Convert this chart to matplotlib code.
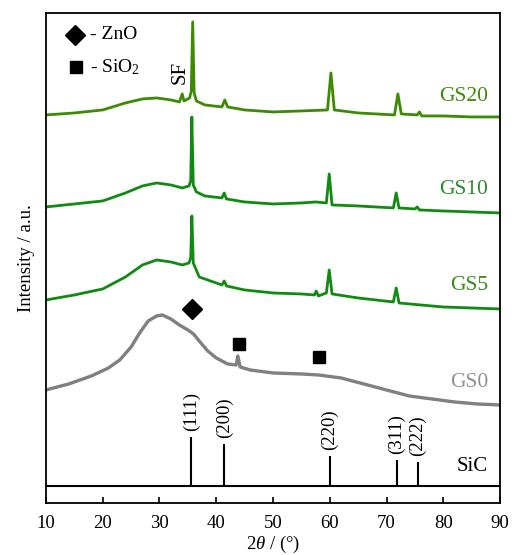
import matplotlib
matplotlib.use('Agg')
import matplotlib.pyplot as plt

plt.rcParams['font.family'] = ['Liberation Serif', 'DejaVu Serif']
plt.rcParams['mathtext.fontset'] = 'custom'
plt.rcParams['mathtext.rm'] = 'Liberation Serif'
plt.rcParams['mathtext.it'] = 'Liberation Serif:italic'

# XRD patterns (2theta in degrees, intensity in arbitrary offset units)
gs20_x = [10, 15, 20, 24, 27, 29.5, 32, 33.5, 34.0, 34.3, 35.3, 35.6, 35.85, 36.1, 36.5, 38,
          41.0, 41.5, 42.0, 45, 50, 55, 59.6, 60.2, 60.8, 65, 71.4, 72.0, 72.6, 75.4, 75.8,
          76.2, 80, 85, 90]
gs20_y = [388, 390, 393, 400, 404, 405, 403, 401, 409, 402, 405, 412, 481, 410, 402, 398,
          396, 403, 396, 393, 391, 392, 393, 430, 393, 390, 388, 409, 389, 388, 391,
          387, 387, 386, 386]

gs10_x = [10, 15, 20, 24, 27, 29.5, 32, 34, 35.2, 35.5, 35.7, 35.95, 36.5, 38, 41.0, 41.4,
          41.8, 45, 50, 55, 57.5, 59.4, 59.9, 60.4, 65, 71.2, 71.7, 72.2, 75.0, 75.4, 75.8,
          80, 85, 90]
gs10_y = [296, 299, 302, 310, 317, 320, 318, 315, 317, 322, 386, 318, 311, 307, 305, 310,
          304, 301, 299, 300, 301, 300, 329, 298, 297, 295, 310, 295, 294, 296, 293,
          292, 291, 290]

gs5_x = [10, 15, 20, 24, 27, 29.5, 32, 34, 35.2, 35.5, 35.7, 35.95, 37, 40, 41.0, 41.4, 41.8,
         45, 50, 55, 57.3, 57.6, 58, 59.4, 59.9, 60.4, 65, 71.2, 71.7, 72.2, 76, 80, 85, 90]
gs5_y = [203, 208, 214, 226, 238, 243, 241, 238, 240, 245, 287, 240, 226, 220, 218, 222, 217,
         213, 210, 209, 208, 212, 207, 210, 233, 209, 205, 201, 215, 200, 198, 196, 195, 194]

gs0_x = [10, 14, 18, 21, 23, 25, 26.5, 28, 29.5, 30.5, 32, 33.5, 35, 36, 37, 38.5, 40, 42,
         43.5, 43.8, 44.2, 46, 50, 55, 58, 62, 66, 70, 74, 78, 82, 86, 90]
gs0_y = [113, 119, 127, 135, 143, 156, 170, 182, 187, 188, 184, 178, 173, 169, 162, 152, 145,
         139, 138, 147, 136, 133, 130, 129, 128, 125, 119, 113, 107, 104, 101, 99, 98]

# SiC reference lines
sic_pos = [35.6, 41.4, 60.0, 71.8, 75.5]
sic_top = [66, 59, 47, 43, 41]
sic_hkl = ['(111)', '(200)', '(220)', '(311)', '(222)']
sic_base = 17

# phase markers
zno_x, zno_y = [35.7], [194]
sio2_x, sio2_y = [44.0, 58.1], [159, 146]

fig = plt.figure(figsize=(5.16, 5.55), dpi=100)
ax = fig.add_axes([0.0891, 0.0937, 0.880, 0.883])

ax.plot(gs0_x, gs0_y, color='#808080', lw=2.4)
ax.plot(gs5_x, gs5_y, color='#108a10', lw=2.0)
ax.plot(gs10_x, gs10_y, color='#108a10', lw=2.0)
ax.plot(gs20_x, gs20_y, color='#3d8a05', lw=2.0)

# SiC stick pattern
ax.axhline(sic_base, color='black', lw=1.5)
ax.vlines(sic_pos, sic_base, sic_top, color='black', lw=1.5)
for p, t, h in zip(sic_pos, sic_top, sic_hkl):
    ax.text(p, t + 6, h, rotation=90, ha='center', va='bottom', fontsize=13.5)
ax.text(87.8, 36, 'SiC', ha='right', va='center', fontsize=15)

# phase markers
ax.plot(zno_x, zno_y, 'D', color='black', ms=10)
ax.plot(sio2_x, sio2_y, 's', color='black', ms=9)

# sample labels
ax.text(87.9, 406, 'GS20', ha='right', va='center', fontsize=15.5, color='#3d8a05')
ax.text(87.9, 313, 'GS10', ha='right', va='center', fontsize=15.5, color='#2a8a2a')
ax.text(87.9, 217, 'GS5', ha='right', va='center', fontsize=15.5, color='#3a8a1a')
ax.text(87.9, 120, 'GS0', ha='right', va='center', fontsize=15.5, color='#909090')
ax.text(33.6, 431, 'SF', rotation=90, ha='center', va='center', fontsize=15)

# legend
ax.plot([15.1], [468], 'D', color='black', ms=10)
ax.plot([15.3], [436], 's', color='black', ms=9)
ax.text(17.7, 468, '- ZnO', ha='left', va='center', fontsize=14)
ax.text(17.7, 436, '- SiO$_2$', ha='left', va='center', fontsize=14)

ax.set_xlim(10, 90)
ax.set_ylim(0, 490)
ax.set_xticks(range(10, 91, 10))
ax.set_yticks([])
ax.tick_params(axis='x', direction='in', length=4, width=1.2, labelsize=13.5, pad=9)
for s in ax.spines.values():
    s.set_linewidth(1.3)
ax.set_xlabel(r'2$\theta$ / (°)', fontsize=13.5, labelpad=1)
ax.set_ylabel('Intensity / a.u.', fontsize=13.5, labelpad=8)

fig.savefig('out.png', dpi=100)
